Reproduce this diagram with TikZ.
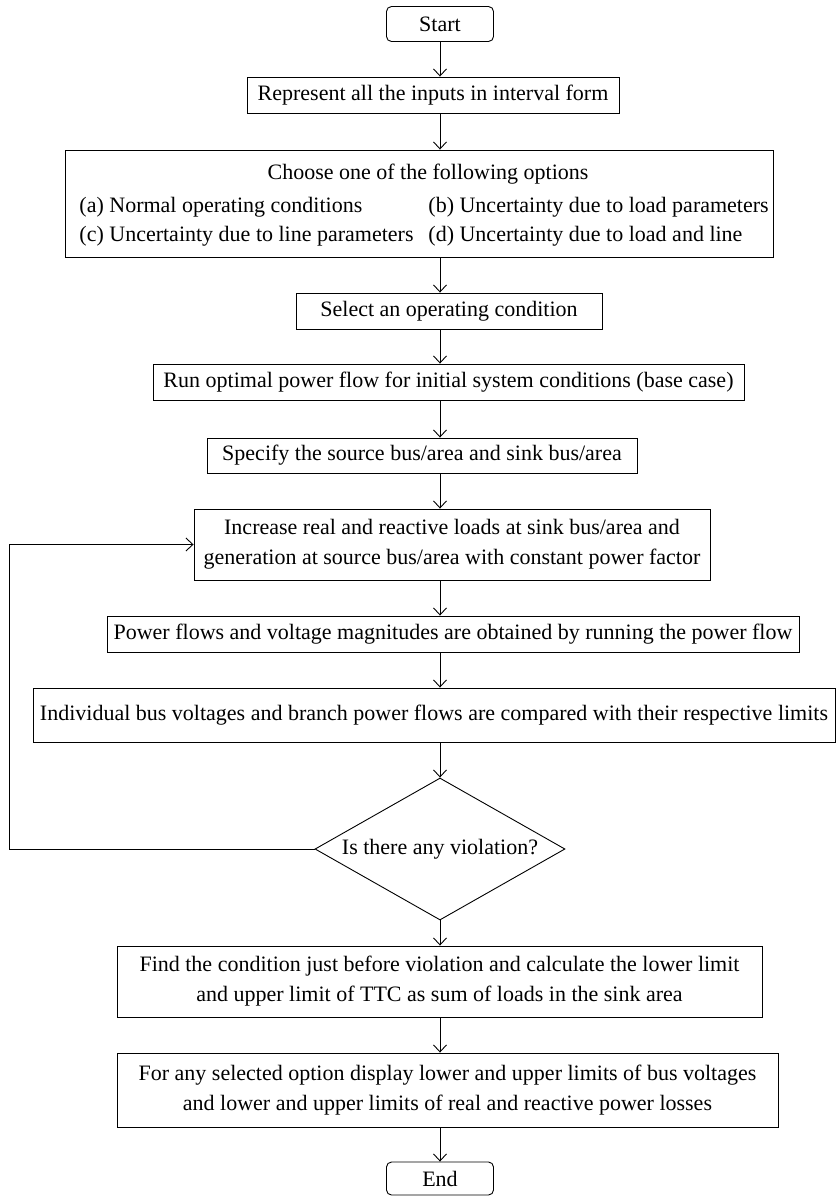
\documentclass[tikz,border=0pt]{standalone}
\usepackage{fontspec}
\setmainfont{Liberation Serif}
\usetikzlibrary{shapes.geometric,arrows.meta}
\begin{document}
\begin{tikzpicture}[x=1pt,y=-1pt,
  font=\fontsize{22}{30}\selectfont,
  line width=0.9pt,
  box/.style={draw, rectangle, inner sep=0pt, align=center},
  term/.style={draw, rectangle, rounded corners=5pt, inner sep=0pt, minimum width=107pt, minimum height=35pt},
  arr/.style={-{Straight Barb[length=7pt,width=13pt]}},
  opt/.style={anchor=base west, inner sep=0pt},
]
\useasboundingbox (0,0) rectangle (839,1196);
\node[term] (start) at (440,24) {Start};
\node[box, minimum width=372pt, minimum height=36pt] (b2) at (433,95) {Represent all the inputs in interval form};
\node[box, minimum width=708pt, minimum height=107pt] (b3) at (419,203.5) {};
\node[anchor=base, inner sep=0pt] (b3t) at (428,179.3) {Choose one of the following options};
\node[opt] (b3a) at (79,212.7) {(a) Normal operating conditions};
\node[opt] (b3b) at (428,212.7) {(b) Uncertainty due to load parameters};
\node[opt] (b3c) at (79,241.7) {(c) Uncertainty due to line parameters};
\node[opt] (b3d) at (428,241.7) {(d) Uncertainty due to load and line};
\node[box, minimum width=306pt, minimum height=36pt] (b4) at (449,311) {Select an operating condition};
\node[box, minimum width=591pt, minimum height=36pt] (b5) at (448.5,382) {Run optimal power flow for initial system conditions (base case)};
\node[box, minimum width=430pt, minimum height=35pt] (b6) at (422,455.5) {Specify the source bus/area and sink bus/area};
\node[box, minimum width=516pt, minimum height=71pt] (b7) at (452,544.5) {Increase real and reactive loads at sink bus/area and\\generation at source bus/area with constant power factor};
\node[box, minimum width=692pt, minimum height=36pt] (b8) at (453,634) {Power flows and voltage magnitudes are obtained by running the power flow};
\node[box, minimum width=802pt, minimum height=54pt] (b9) at (434,715) {Individual bus voltages and branch power flows are compared with their respective limits};
\node[draw, diamond, aspect=1.76, inner sep=0pt, minimum width=250pt, minimum height=142pt] (d) at (440,849) {Is there any violation?};
\node[box, minimum width=645pt, minimum height=71pt] (b10) at (439.5,981.5) {Find the condition just before violation and calculate the lower limit\\and upper limit of TTC as sum of loads in the sink area};
\node[box, minimum width=661pt, minimum height=74pt] (b11) at (447.5,1090) {For any selected option display lower and upper limits of bus voltages\\and lower and upper limits of real and reactive power losses};
\node[term, minimum height=33pt] (end) at (440,1178.5) {End};

\draw[arr] (start.south) -- (start.south |- b2.north);
\draw[arr] (start.south |- b2.south) -- (start.south |- b3.north);
\draw[arr] (start.south |- b3.south) -- (start.south |- b4.north);
\draw[arr] (start.south |- b4.south) -- (start.south |- b5.north);
\draw[arr] (start.south |- b5.south) -- (start.south |- b6.north);
\draw[arr] (start.south |- b6.south) -- (start.south |- b7.north);
\draw[arr] (start.south |- b7.south) -- (start.south |- b8.north);
\draw[arr] (start.south |- b8.south) -- (start.south |- b9.north);
\draw[arr] (start.south |- b9.south) -- (d.north);
\draw[arr] (d.south) -- (start.south |- b10.north);
\draw[arr] (start.south |- b10.south) -- (start.south |- b11.north);
\draw[arr] (start.south |- b11.south) -- (end.north);
\draw[arr] (d.west) -- ++(-305,0) |- (b7.west);
\end{tikzpicture}
\end{document}
